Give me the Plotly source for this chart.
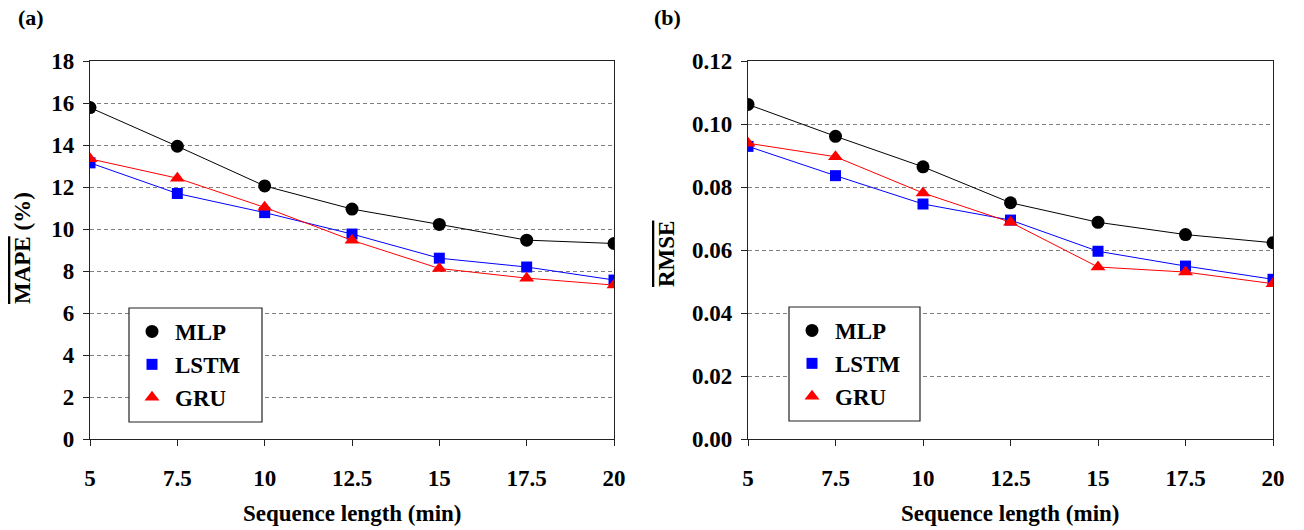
import plotly.graph_objects as go

seq_len = [5, 7.5, 10, 12.5, 15, 17.5, 20]
x_ticks = [5, 7.5, 10, 12.5, 15, 17.5, 20]
x_tick_text = ["5", "7.5", "10", "12.5", "15", "17.5", "20"]

mape_mlp = [15.78, 13.94, 12.05, 10.95, 10.22, 9.47, 9.31]
mape_lstm = [13.15, 11.69, 10.78, 9.76, 8.61, 8.19, 7.57]
mape_gru = [13.34, 12.42, 11.03, 9.46, 8.12, 7.66, 7.33]

rmse_mlp = [0.1062, 0.0961, 0.0864, 0.0750, 0.0688, 0.0649, 0.0623]
rmse_lstm = [0.0929, 0.0836, 0.0746, 0.0695, 0.0596, 0.0549, 0.0507]
rmse_gru = [0.0939, 0.0896, 0.0781, 0.0688, 0.0546, 0.0530, 0.0493]

y1_ticks = [0, 2, 4, 6, 8, 10, 12, 14, 16, 18]
y2_ticks = [0, 0.02, 0.04, 0.06, 0.08, 0.10, 0.12]
y2_tick_text = ["0.00", "0.02", "0.04", "0.06", "0.08", "0.10", "0.12"]

names = ["MLP", "LSTM", "GRU"]
colors = ["#000000", "#0000FF", "#FF0000"]
symbols = ["circle", "square", "triangle-up"]
sizes = [13, 11, 13]

FONT = "Liberation Serif, Times New Roman, serif"
W, H = 1304, 530

fig = go.Figure()

panels = [
    ("x", "y", [mape_mlp, mape_lstm, mape_gru], "legend"),
    ("x2", "y2", [rmse_mlp, rmse_lstm, rmse_gru], "legend2"),
]
for xa, ya, series, leg in panels:
    for i, vals in enumerate(series):
        fig.add_trace(go.Scatter(
            x=seq_len, y=vals, xaxis=xa, yaxis=ya, mode="lines+markers",
            line=dict(color=colors[i], width=1),
            marker=dict(symbol=symbols[i], size=sizes[i], color=colors[i]),
            showlegend=False, hoverinfo="skip"))
    for i in range(3):
        fig.add_trace(go.Scatter(
            x=[None], y=[None], xaxis=xa, yaxis=ya, mode="markers",
            marker=dict(symbol=symbols[i], size=sizes[i], color=colors[i]),
            name=names[i], legend=leg, legendgroup=leg + names[i],
            showlegend=True))

def px_x(p):
    return p / W

def px_y(p):
    return 1 - p / H

ydom = [px_y(439), px_y(61)]
axis_common = dict(
    showline=True, linecolor="#222", linewidth=1.2, mirror=True,
    ticks="outside", ticklen=6, tickcolor="#222", tickwidth=1.2,
    tickfont=dict(family=FONT, size=23, color="black", weight="bold"),
    automargin=False, zeroline=False,
)
xcommon = dict(axis_common, range=[5, 20], tickvals=x_ticks, ticktext=x_tick_text,
               showgrid=False, ticklabelstandoff=12)
ycommon = dict(axis_common, showgrid=True, gridcolor="#808080", gridwidth=1.2,
               griddash="4px,3px", ticklabelstandoff=4)

legend_common = dict(xanchor="left", yanchor="top",
                     borderwidth=0, bgcolor="rgba(0,0,0,0)",
                     font=dict(family=FONT, size=23, color="black", weight="bold"),
                     tracegroupgap=0, traceorder="grouped", itemwidth=36)

fig.update_layout(
    width=W, height=H,
    margin=dict(l=0, r=0, t=0, b=0),
    paper_bgcolor="white", plot_bgcolor="white",
    font=dict(family=FONT, color="black", weight="bold"),
    xaxis=dict(xcommon, domain=[px_x(90), px_x(614)], anchor="y"),
    yaxis=dict(ycommon, domain=ydom, range=[0, 18], tickvals=y1_ticks, anchor="x"),
    xaxis2=dict(xcommon, domain=[px_x(748), px_x(1273)], anchor="y2"),
    yaxis2=dict(ycommon, domain=ydom, range=[0, 0.12], tickvals=y2_ticks,
                ticktext=y2_tick_text, anchor="x2"),
    legend=dict(legend_common, x=px_x(129), y=px_y(310)),
    legend2=dict(legend_common, x=px_x(789), y=px_y(309)),
    showlegend=True,
)

# legend frames
for (x0, y0, x1, y1) in [(129, 308, 262, 422), (789, 307, 920, 421)]:
    fig.add_shape(type="rect", xref="paper", yref="paper",
                  x0=px_x(x0), x1=px_x(x1), y0=px_y(y1), y1=px_y(y0),
                  line=dict(color="#222", width=1.2), fillcolor="white",
                  layer="above")

annos = [
    dict(text="(a)", x=px_x(31), y=px_y(18), font_size=22),
    dict(text="(b)", x=px_x(667), y=px_y(18), font_size=22),
    dict(text="Sequence length (min)", x=px_x(352), y=px_y(513), font_size=23),
    dict(text="Sequence length (min)", x=px_x(1010), y=px_y(513), font_size=23),
    dict(text='<span style="text-decoration:overline">MAPE</span> (%)',
         x=px_x(22), y=px_y(248), font_size=23, textangle=-90),
    dict(text='<span style="text-decoration:overline">RMSE</span>',
         x=px_x(666), y=px_y(254), font_size=23, textangle=-90),
]
for a in annos:
    fig.add_annotation(xref="paper", yref="paper", x=a["x"], y=a["y"],
                       text=a["text"], showarrow=False,
                       textangle=a.get("textangle", 0),
                       xanchor="center", yanchor="middle",
                       font=dict(family=FONT, size=a["font_size"], color="black",
                                 weight="bold"))

fig.write_html("out.html")
